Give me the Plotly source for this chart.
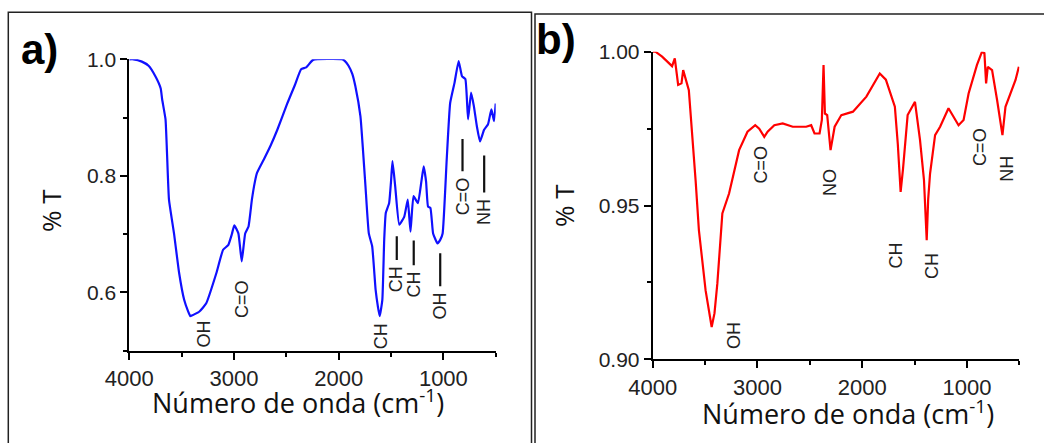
import plotly.graph_objects as go

W, H = 1044, 443

# ---------------- data ----------------
wn_a = [4000, 3961, 3880, 3816, 3751, 3700, 3686, 3654, 3640, 3621, 3573, 3524, 3476, 3440, 3417, 3380, 3330,
        3265, 3168, 3104, 3055, 3020, 2997, 2958, 2926, 2893, 2861, 2829, 2800, 2780, 2715, 2650, 2586, 2489,
        2420, 2359, 2310, 2245, 1971, 1940, 1906, 1870, 1841, 1792, 1770, 1744, 1712, 1680, 1647, 1625, 1608,
        1583, 1565, 1550, 1518, 1500, 1486, 1460, 1421, 1373, 1340, 1314, 1285, 1243, 1210, 1188, 1165, 1146,
        1124, 1098, 1056, 1030, 1007, 968, 935, 893, 854, 822, 790, 764, 735, 709, 680, 650, 611, 574, 541,
        516, 500]
t_a = [1.0, 1.0, 0.996, 0.989, 0.971, 0.950, 0.931, 0.897, 0.840, 0.759, 0.701, 0.633, 0.587, 0.568, 0.559,
       0.562, 0.567, 0.581, 0.633, 0.673, 0.681, 0.700, 0.715, 0.701, 0.653, 0.701, 0.713, 0.759, 0.790, 0.805,
       0.828, 0.852, 0.879, 0.925, 0.955, 0.983, 0.986, 0.999, 1.0, 0.997, 0.989, 0.975, 0.954, 0.902, 0.850,
       0.782, 0.701, 0.679, 0.604, 0.575, 0.559, 0.587, 0.690, 0.736, 0.753, 0.790, 0.825, 0.782, 0.716, 0.730,
       0.759, 0.704, 0.765, 0.753, 0.790, 0.816, 0.790, 0.747, 0.745, 0.701, 0.684, 0.690, 0.701, 0.828, 0.925,
       0.960, 0.997, 0.971, 0.966, 0.897, 0.943, 0.920, 0.885, 0.859, 0.879, 0.888, 0.914, 0.894, 0.924]

wn_b = [4000, 3974, 3910, 3846, 3815, 3789, 3770, 3757, 3725, 3709, 3655, 3623, 3590, 3559, 3495, 3437, 3410,
        3383, 3335, 3271, 3175, 3095, 3021, 2983, 2935, 2903, 2839, 2759, 2663, 2535, 2487, 2455, 2407, 2385,
        2369, 2356, 2334, 2302, 2263, 2199, 2088, 1960, 1832, 1774, 1742, 1688, 1660, 1633, 1610, 1592, 1566,
        1496, 1448, 1410, 1395, 1384, 1370, 1352, 1304, 1256, 1176, 1144, 1080, 1032, 984, 904, 856, 833, 817,
        801, 760, 712, 680, 661, 632, 600, 536, 504]
t_b = [1.0, 1.0, 0.9984, 0.9962, 0.9953, 0.9978, 0.9930, 0.9892, 0.9897, 0.9940, 0.9875, 0.9734, 0.9580,
       0.9420, 0.9224, 0.9105, 0.9150, 0.9246, 0.9474, 0.9539, 0.9680, 0.9740, 0.9761, 0.9750, 0.9723, 0.9740,
       0.9761, 0.9767, 0.9756, 0.9756, 0.9761, 0.9734, 0.9734, 0.9778, 0.9957, 0.9799, 0.9794, 0.9680, 0.9756,
       0.9794, 0.9805, 0.9854, 0.9929, 0.9909, 0.9875, 0.9821, 0.9700, 0.9544, 0.9620, 0.9691, 0.9794, 0.9837,
       0.9713, 0.9583, 0.9480, 0.9387, 0.9520, 0.9604, 0.9729, 0.9756, 0.9816, 0.9799, 0.9761, 0.9778, 0.9864,
       0.9957, 1.0, 0.9995, 0.9897, 0.9951, 0.9940, 0.9843, 0.9770, 0.9729, 0.9821, 0.9848, 0.9908, 0.9951]

x_ticks = [4000, 3000, 2000, 1000]
x_minor = [3500, 2500, 1500, 500]
ya_ticks = [0.6, 0.8, 1.0]
ya_ticktext = ["0.6", "0.8", "1.0"]
ya_minor = [0.5, 0.7, 0.9]
yb_ticks = [0.90, 0.95, 1.00]
yb_ticktext = ["0.90", "0.95", "1.00"]
yb_minor = [0.925, 0.975]

lab_a = ["OH", "C=O", "CH", "CH", "CH", "OH", "C=O", "NH"]
lab_a_x = [3287, 2917, 1599, 1445, 1283, 1030, 817, 610]
lab_a_y = [0.529, 0.588, 0.524, 0.622, 0.613, 0.576, 0.764, 0.738]
lab_a_tip = [None, None, None, 0.696, 0.689, 0.667, 0.863, 0.835]

lab_b = ["OH", "C=O", "NO", "CH", "CH", "C=O", "NH"]
lab_b_x = [3222, 2970, 2302, 1681, 1328, 874, 619]
lab_b_y = [0.9076, 0.9632, 0.9575, 0.9336, 0.9302, 0.9691, 0.9619]

x_title = "Número de onda (cm<sup>-1</sup>)"
y_title = "% T"

# ---------------- figure ----------------
TICKFONT = "Liberation Sans, Arial, sans-serif"
TITLEFONT = "Open Sans, Noto Sans, sans-serif"

fig = go.Figure()
fig.add_trace(go.Scatter(x=wn_a, y=t_a, mode="lines", line=dict(color="#1010ff", width=2.2, shape="spline", smoothing=0.4),
                         xaxis="x", yaxis="y", showlegend=False))
fig.add_trace(go.Scatter(x=wn_b, y=t_b, mode="lines", line=dict(color="#ff0000", width=2.2),
                         xaxis="x2", yaxis="y2", showlegend=False))


def px_x(p):
    return p / W


def px_y(p):
    return 1 - p / H


axis_common = dict(showgrid=False, zeroline=False, showline=True, linecolor="black", linewidth=2,
                   ticks="outside", tickcolor="black", tickwidth=2, ticklen=7, automargin=False,
                   tickfont=dict(family=TICKFONT, size=22, color="#222"))

minor_common = dict(tickmode="array", ticks="outside", ticklen=4, tickwidth=2, tickcolor="black")

fig.update_layout(
    width=W, height=H, margin=dict(l=0, r=0, t=0, b=0, autoexpand=False),
    paper_bgcolor="white", plot_bgcolor="white",
    xaxis=dict(domain=[px_x(129.3), px_x(495.7)], range=[4000, 500], anchor="y",
               tickmode="array", tickvals=x_ticks, minor=dict(tickvals=x_minor, **minor_common),
               **axis_common),
    yaxis=dict(domain=[px_y(350.5), px_y(59.3)], range=[0.5, 1.0], anchor="x",
               tickmode="array", tickvals=ya_ticks, ticktext=ya_ticktext,
               minor=dict(tickvals=ya_minor, **minor_common),
               **{**axis_common, "tickfont": dict(family=TICKFONT, size=21, color="#222")}),
    xaxis2=dict(domain=[px_x(652.7), px_x(1019.3)], range=[4000, 500], anchor="y2",
                tickmode="array", tickvals=x_ticks, minor=dict(tickvals=x_minor, **minor_common),
                **axis_common),
    yaxis2=dict(domain=[px_y(359.3), px_y(51.7)], range=[0.90, 1.00], anchor="x2",
                tickmode="array", tickvals=yb_ticks, ticktext=yb_ticktext,
                minor=dict(tickvals=yb_minor, **minor_common),
                **{**axis_common, "tickfont": dict(family=TICKFONT, size=21, color="#222")}),
)

annotations = []
lab_font = dict(family=TICKFONT, size=18, color="#222")
for t, x, y, tip in zip(lab_a, lab_a_x, lab_a_y, lab_a_tip):
    if tip is None:
        annotations.append(dict(x=x, y=y, xref="x", yref="y", text=t, textangle=-90,
                                showarrow=False, font=lab_font))
    else:
        annotations.append(dict(x=x, y=tip, xref="x", yref="y", ax=x, ay=y, axref="x", ayref="y",
                                text=t, textangle=-90, showarrow=True, arrowhead=0, arrowwidth=2.2,
                                arrowcolor="#111", startstandoff=5, font=lab_font))
for t, x, y in zip(lab_b, lab_b_x, lab_b_y):
    annotations.append(dict(x=x, y=y, xref="x2", yref="y2", text=t, textangle=-90,
                            showarrow=False, font=lab_font))

# axis titles
title_font = dict(family=TITLEFONT, size=27, color="#111")
annotations += [
    dict(x=px_x(298), y=px_y(401), xref="paper", yref="paper", text=x_title, showarrow=False,
         font=title_font, xanchor="center", yanchor="middle"),
    dict(x=px_x(848), y=px_y(412), xref="paper", yref="paper", text=x_title, showarrow=False,
         font=title_font, xanchor="center", yanchor="middle"),
    dict(x=px_x(51), y=px_y(211), xref="paper", yref="paper", text=y_title, textangle=-90,
         showarrow=False, font=dict(family=TITLEFONT, size=26, color="#111"),
         xanchor="center", yanchor="middle"),
    dict(x=px_x(564), y=px_y(206), xref="paper", yref="paper", text=y_title, textangle=-90,
         showarrow=False, font=dict(family=TITLEFONT, size=26, color="#111"),
         xanchor="center", yanchor="middle"),
    # panel letters
    dict(x=px_x(19), y=px_y(50), xref="paper", yref="paper", text="<b>a)</b>", showarrow=False,
         font=dict(family=TICKFONT, size=42, color="black"), xanchor="left", yanchor="middle"),
    dict(x=px_x(534), y=px_y(40), xref="paper", yref="paper", text="<b>b)</b>", showarrow=False,
         font=dict(family=TICKFONT, size=42, color="black"), xanchor="left", yanchor="middle"),
]
fig.update_layout(annotations=annotations)

# panel frames
fig.update_layout(shapes=[
    dict(type="rect", xref="paper", yref="paper", x0=px_x(8.3), x1=px_x(531.5), y0=px_y(460), y1=px_y(12.3),
         line=dict(color="#222", width=1.5), fillcolor="rgba(0,0,0,0)", layer="below"),
    dict(type="rect", xref="paper", yref="paper", x0=px_x(535), x1=px_x(1060), y0=px_y(460), y1=px_y(14),
         line=dict(color="#222", width=1.5), fillcolor="rgba(0,0,0,0)", layer="below"),
])

fig.write_html("out.html")
